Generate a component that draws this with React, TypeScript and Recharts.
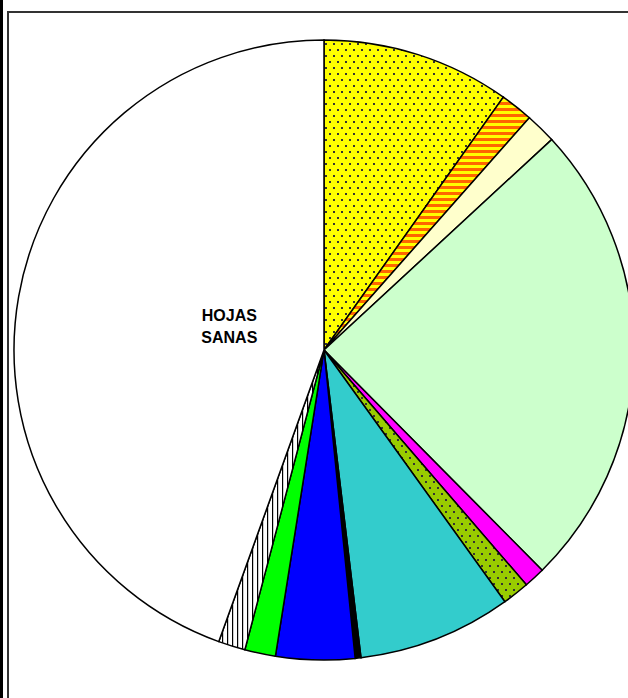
import React from 'react';
import { PieChart, Pie, Cell } from 'recharts';

// categories, clockwise from 12 o'clock
const categories = [
  'ROYA',
  'MANCHA ANARANJADA',
  'MANCHA AMARILLA',
  'CLOROSIS',
  'MANCHA PURPURA',
  'PUNTEADO',
  'QUEMADURA',
  'NECROSIS',
  'MINADOR',
  'ARAÑUELA',
  'DAÑO MECANICO',
  'HOJAS SANAS',
];

// percentage of leaves in each class
const percents = [9.8, 1.7, 1.6, 24.4, 1.1, 1.4, 8.0, 0.3, 4.1, 1.6, 1.4, 44.4];

const fills = [
  'url(#dotsYellow)',
  'url(#stripesOrange)',
  '#FFFFCC',
  '#CCFFCC',
  '#FF00FF',
  'url(#dotsGreen)',
  '#33CCCC',
  '#000000',
  '#0000FF',
  '#00FF00',
  'url(#hatchWhite)',
  '#FFFFFF',
];

const labelled = ['HOJAS', 'SANAS'];

const data = categories.map((name, i) => ({ name, value: percents[i] }));

const RAD = Math.PI / 180;

function renderLabel(props: any) {
  const { cx, cy, midAngle, outerRadius, index } = props;
  if (categories[index] !== 'HOJAS SANAS') return null;
  const r = outerRadius * 0.31;
  const x = cx + r * Math.cos(-midAngle * RAD);
  const y = cy + r * Math.sin(-midAngle * RAD);
  return (
    <text
      x={x}
      y={y}
      textAnchor="middle"
      fill="#000"
      fontFamily="'Liberation Sans', Arial, sans-serif"
      fontWeight="bold"
      fontSize={16}
    >
      <tspan x={x} dy={-12}>{labelled[0]}</tspan>
      <tspan x={x} dy={22}>{labelled[1]}</tspan>
    </text>
  );
}

export default function App() {
  return (
    <div
      style={{
        position: 'absolute',
        left: 0,
        top: 0,
        width: 628,
        height: 698,
        overflow: 'hidden',
        background: '#fff',
      }}
    >
      {/* frame */}
      <div style={{ position: 'absolute', left: 0, top: 0, width: 3, height: 698, background: '#000' }} />
      <div
        style={{
          position: 'absolute',
          left: 7,
          top: 11,
          width: 700,
          height: 720,
          borderTop: '2px solid #333',
          borderLeft: '2px solid #333',
        }}
      />
      <div style={{ position: 'absolute', left: 0, top: 0 }}>
        <PieChart width={628} height={698} margin={{ top: 0, right: 0, bottom: 0, left: 0 }}>
          <defs>
            <pattern id="dotsYellow" width={8} height={12} patternUnits="userSpaceOnUse">
              <rect width={8} height={12} fill="#FFFF00" />
              <rect x={1} y={1} width={2} height={2} fill="#333" />
              <rect x={5} y={7} width={2} height={2} fill="#333" />
            </pattern>
            <pattern id="dotsGreen" width={8} height={12} patternUnits="userSpaceOnUse">
              <rect width={8} height={12} fill="#99CC00" />
              <rect x={1} y={1} width={2} height={2} fill="#333" />
              <rect x={5} y={7} width={2} height={2} fill="#333" />
            </pattern>
            <pattern id="stripesOrange" width={6} height={6} patternUnits="userSpaceOnUse">
              <rect width={6} height={6} fill="#FFFF00" />
              <rect width={6} height={3} fill="#FF6600" />
            </pattern>
            <pattern id="hatchWhite" width={5} height={5} patternUnits="userSpaceOnUse">
              <rect width={5} height={5} fill="#FFFFFF" />
              <rect x={2} width={1.2} height={5} fill="#000" />
            </pattern>
          </defs>
          <Pie
            data={data}
            dataKey="value"
            nameKey="name"
            cx={324}
            cy={350}
            outerRadius={310}
            startAngle={90}
            endAngle={-270}
            stroke="#000"
            strokeWidth={1.5}
            label={renderLabel}
            labelLine={false}
            isAnimationActive={false}
          >
            {data.map((d, i) => (
              <Cell key={d.name} fill={fills[i]} stroke="#000" strokeWidth={1.5} />
            ))}
          </Pie>
        </PieChart>
      </div>
    </div>
  );
}
